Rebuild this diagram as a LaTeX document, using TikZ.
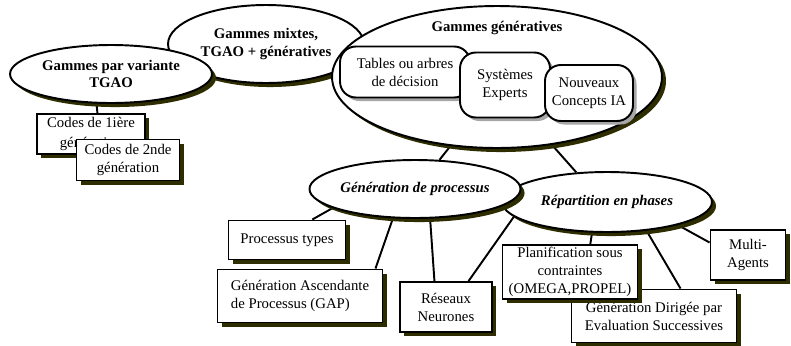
\documentclass[tikz,border=0pt]{standalone}
\usepackage{fontspec}
\setmainfont{Liberation Serif}
\usetikzlibrary{shapes.geometric,shadows,backgrounds}
\definecolor{ombre}{RGB}{45,45,0}
\tikzset{
  cadre/.style={draw, line width=1.1pt, fill=white, inner sep=0pt, align=center},
  bulle/.style={cadre, ellipse, font=\bfseries\fontsize{8.4}{10}\selectfont,
    drop shadow={shadow xshift=2.3pt, shadow yshift=-2.3pt, fill=ombre, opacity=1}},
  boite/.style={cadre, rectangle, font=\fontsize{8.4}{10.2}\selectfont,
    drop shadow={shadow xshift=2.3pt, shadow yshift=-2.3pt, fill=ombre, opacity=1}},
  arrondi/.style={cadre, rectangle, rounded corners=9pt, font=\fontsize{8.4}{10.2}\selectfont,
    drop shadow={shadow xshift=2pt, shadow yshift=-2pt, fill=gray!70, opacity=1}},
  lien/.style={line width=1.1pt}
}

\begin{document}
\begin{tikzpicture}[x=0.02cm,y=-0.02cm]
\useasboundingbox (0,0) rectangle (791,345);

\node[bulle, minimum width=3.92cm, minimum height=1.56cm] (mix) at (266,44) {Gammes mixtes,\\TGAO + génératives};
\node[bulle, minimum width=4.04cm, minimum height=1.16cm] (var) at (111,74) {Gammes par variante\\TGAO};
\node[bulle, minimum width=6.6cm, minimum height=2.84cm] (gg) at (497,77) {};
\node[font=\bfseries\fontsize{8.4}{10}\selectfont] (ggt) at (497,28) {Gammes génératives};
\node[arrondi, minimum width=2.6cm, minimum height=1.02cm] (tab) at (405,72) {Tables ou arbres\\de décision};
\node[arrondi, minimum width=1.8cm, minimum height=1.3cm] (sys) at (505,85) {Systèmes\\Experts};
\node[arrondi, minimum width=1.76cm, minimum height=1.12cm] (nou) at (589,93) {Nouveaux\\Concepts IA};

\node[boite, minimum width=2.16cm, minimum height=0.8cm, font=\fontsize{8.4}{11.5}\selectfont] (c1) at (91,134) {Codes de 1ière\\génération};
\node[boite, minimum width=2.06cm, minimum height=0.82cm] (c2) at (128,160) {Codes de 2nde\\génération};

\node[bulle, minimum width=4.2cm, minimum height=1.2cm, font=\bfseries\itshape\fontsize{8.4}{10}\selectfont] (rep) at (607,202) {Répartition en phases};
\node[bulle, minimum width=3.92cm, minimum height=1.16cm, font=\bfseries\itshape\fontsize{8.4}{10}\selectfont] (gen) at (415,189) {Génération de processus};

\node[boite, minimum width=2.34cm, minimum height=0.78cm] (pt) at (287,240) {Processus types};
\node[boite, minimum width=3.3cm, minimum height=1.06cm, align=left] (gap) at (300,296) {Génération Ascendante\\de Processus (GAP)};
\node[boite, minimum width=1.84cm, minimum height=1cm] (res) at (446,307) {Réseaux\\Neurones};
\node[boite, minimum width=3.3cm, minimum height=1.06cm] (gde) at (654,316) {Génération Dirigée par\\Evaluation Successives};
\node[boite, minimum width=2.7cm, minimum height=1.08cm, font=\fontsize{8.4}{10.4}\selectfont] (pla) at (570,272) {Planification sous\\contraintes\\(OMEGA,PROPEL)};
\node[boite, minimum width=1.5cm, minimum height=1cm] (mul) at (748,255) {Multi-\\Agents};

\begin{pgfonlayer}{background}
\draw[lien] (var.244) -- (c1.73);
\draw[lien] (gg.236) -- (gen.50);
\draw[lien] (gg.309) -- (rep.136);
\draw[lien] (gen.193) -- (pt.39);
\draw[lien] (gen.233) -- (gap.20);
\draw[lien] (gen.297) -- (res.114);
\draw[lien] (rep.189) -- (res.49);
\draw[lien] (rep.244) -- (pla.54);
\draw[lien] (rep.324) -- (gde.46);
\draw[lien] (rep.342) -- (mul.162);
\end{pgfonlayer}
\end{tikzpicture}
\end{document}
